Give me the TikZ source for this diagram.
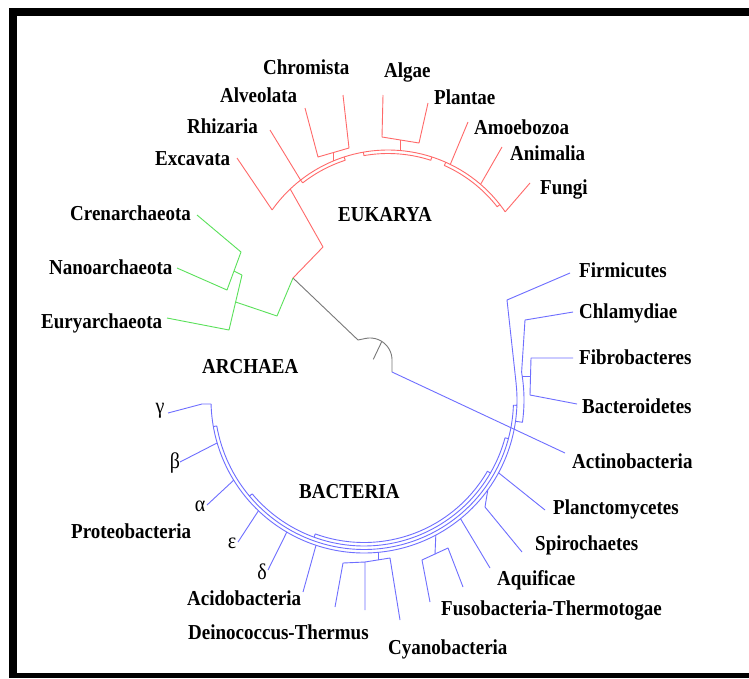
\documentclass[tikz,border=0pt]{standalone}
\usepackage{fontspec}
\setmainfont{Liberation Serif}
\usepackage{graphicx}
\definecolor{eukred}{RGB}{255,105,105}
\definecolor{archgreen}{RGB}{90,225,90}
\definecolor{bactblue}{RGB}{110,110,255}
\definecolor{rootgray}{RGB}{120,120,120}
\newcommand{\labtxt}[1]{\scalebox{1}[1.12]{#1}}
\begin{document}
\begin{tikzpicture}[x=1pt,y=-1pt,
  lbl/.style={anchor=base west,inner sep=0pt,font=\fontsize{19}{19}\selectfont\bfseries},
  grk/.style={anchor=center,inner sep=0pt,font=\fontsize{20}{20}\selectfont},
  eline/.style={draw=eukred,line width=0.9pt,line join=round},
  aline/.style={draw=archgreen,line width=0.9pt,line join=round},
  bline/.style={draw=bactblue,line width=0.9pt,line join=round},
  rline/.style={draw=rootgray,line width=0.9pt,line join=round}]
\useasboundingbox (0,0) rectangle (749,678);
\fill[white] (0,0) rectangle (749,678);
\fill[black] (9,8) rectangle (749,16);
\fill[black] (9,8) rectangle (17,678);
\fill[black] (9,673) rectangle (749,678);

% ---------- root ----------
\draw[rline] (293,278) -- (358,340) -- (366.2,338.3);
\begin{scope}[shift={(370,360)}]
  \draw[rline] plot[domain=-100:0,samples=30] (\x:22) -- (22,12);
\end{scope}
\draw[rline] (381.7,341.7) -- (373.3,359.3);
\draw[bline] (392,372) -- (565,453);

% ---------- Eukarya ----------
\draw[eline] (293,278) -- (323,247) -- (290.2,189.0);
\begin{scope}[shift={(388,292)}]
  \draw[eline] plot[domain=-144.7:-34.4,samples=90] (\x:142);
  \draw[eline] (-128:142) -- plot[domain=-128:-108,samples=20] (\x:138.5) -- (-108:142);
  \draw[eline] (-100:142) -- plot[domain=-100:-72,samples=20] (\x:138.5) -- (-72:142);
  \draw[eline] (-66:142) -- plot[domain=-66:-38,samples=20] (\x:138.5) -- (-38:142);
\end{scope}
\draw[eline] (237,158) -- (272.1,209.9);
\draw[eline] (270,130) -- (300.6,180.1);
\draw[eline] (305,108) -- (318,157) -- (349,148) -- (343,95);
\draw[eline] (333.5,152.6) -- (333.5,160.9);
\draw[eline] (383,95) -- (382,137) -- (419,143) -- (428,103);
\draw[eline] (400,139.5) -- (400,150.5);
\draw[eline] (468,122) -- (450.3,164.4);
\draw[eline] (502,147) -- (480.6,184.3);
\draw[eline] (530,183) -- (505.2,211.8);

% ---------- Archaea ----------
\draw[aline] (293,278) -- (277,316) -- (235.6,302);
\draw[aline] (242,275) -- (229,330) -- (167,318);
\draw[aline] (197,215) -- (241,252) -- (227,290) -- (177,268);
\draw[aline] (234,271) -- (242,275);

% ---------- Bacteria ----------
\begin{scope}[shift={(364,400)}]
  \draw[bline] plot[domain=-6.3:178.5,samples=120] (\x:153);
  \draw[bline] (2:153) -- plot[domain=2:170,samples=90] (\x:149.5) -- (170:153);
  \draw[bline] (15:149.5) -- plot[domain=15:140,samples=80] (\x:146) -- (140:149.5);
  \draw[bline] (30:146) -- plot[domain=30:110,samples=60] (\x:142.5) -- (110:146);
  \draw[bline] plot[domain=-10:8,samples=20] (\x:160) -- (8:153);
\end{scope}
\draw[bline] (570,273) -- (507,300) -- (516.1,383.2);
\draw[bline] (573,312) -- (525,320) -- (521.6,372.2);
\draw[bline] (573,358) -- (531,358) -- (530,395) -- (577,404);
\draw[bline] (530.5,376) -- (522.2,376);
\draw[bline] (545,510) -- (498.6,472.8);
\draw[bline] (522,552) -- (485,507) -- (487.8,489.9);
\draw[bline] (490,568) -- (460.5,518.7);
\draw[bline] (430,602) -- (422,560) -- (448,548) -- (463,587);
\draw[bline] (435,554.3) -- (435.8,535.1);
\draw[bline] (335,607) -- (343,563) -- (365,562) -- (365,610);
\draw[bline] (365,562) -- (390,558) -- (400,620);
\draw[bline] (378,560) -- (378,552.4);
\draw[bline] (303,592) -- (316,545.3);
\draw[bline] (268,570) -- (286.8,532.1);
\draw[bline] (238,542) -- (258.4,510.8);
\draw[bline] (207,505) -- (233.7,480.2);
\draw[bline] (180,462) -- (217.2,442.9);
\draw[bline] (168,413) -- (202,404) -- (211.05,404);

% ---------- labels ----------
\node[lbl] (chrom) at (263,74) {\labtxt{Chromista}};
\node[lbl] (algae) at (384,77) {\labtxt{Algae}};
\node[lbl] (alveo) at (220,102) {\labtxt{Alveolata}};
\node[lbl] (plantae) at (434,104) {\labtxt{Plantae}};
\node[lbl] (rhiz) at (187,133) {\labtxt{Rhizaria}};
\node[lbl] (amoeb) at (474,134) {\labtxt{Amoebozoa}};
\node[lbl] (excav) at (155,165) {\labtxt{Excavata}};
\node[lbl] (anim) at (510,160) {\labtxt{Animalia}};
\node[lbl] (fungi) at (540,194) {\labtxt{Fungi}};
\node[lbl] (euk) at (338,221) {\labtxt{EUKARYA}};
\node[lbl] (cren) at (70,220) {\labtxt{Crenarchaeota}};
\node[lbl] (nano) at (49,274) {\labtxt{Nanoarchaeota}};
\node[lbl] (eury) at (41,328) {\labtxt{Euryarchaeota}};
\node[lbl] (arch) at (202,373) {\labtxt{ARCHAEA}};
\node[lbl] (firm) at (579,277) {\labtxt{Firmicutes}};
\node[lbl] (chlam) at (579,318) {\labtxt{Chlamydiae}};
\node[lbl] (fibro) at (579,364) {\labtxt{Fibrobacteres}};
\node[lbl] (bacter) at (582,413) {\labtxt{Bacteroidetes}};
\node[lbl] (actino) at (572,468) {\labtxt{Actinobacteria}};
\node[lbl] (plancto) at (553,514) {\labtxt{Planctomycetes}};
\node[lbl] (spiro) at (535,550) {\labtxt{Spirochaetes}};
\node[lbl] (aquif) at (497,585) {\labtxt{Aquificae}};
\node[lbl] (fuso) at (441,615) {\labtxt{Fusobacteria-Thermotogae}};
\node[lbl] (cyano) at (388,654) {\labtxt{Cyanobacteria}};
\node[lbl] (deino) at (188,639) {\labtxt{Deinococcus-Thermus}};
\node[lbl] (acido) at (187,605) {\labtxt{Acidobacteria}};
\node[lbl] (proteo) at (71,538) {\labtxt{Proteobacteria}};
\node[lbl] (bact) at (299,498) {\labtxt{BACTERIA}};
\node[grk] (gam) at (160,411) {\labtxt{γ}};
\node[grk] (bet) at (175,463) {\labtxt{β}};
\node[grk] (alp) at (200,506) {\labtxt{α}};
\node[grk] (eps) at (232,543) {\labtxt{ε}};
\node[grk] (del) at (262,572) {\labtxt{δ}};
\end{tikzpicture}
\end{document}
